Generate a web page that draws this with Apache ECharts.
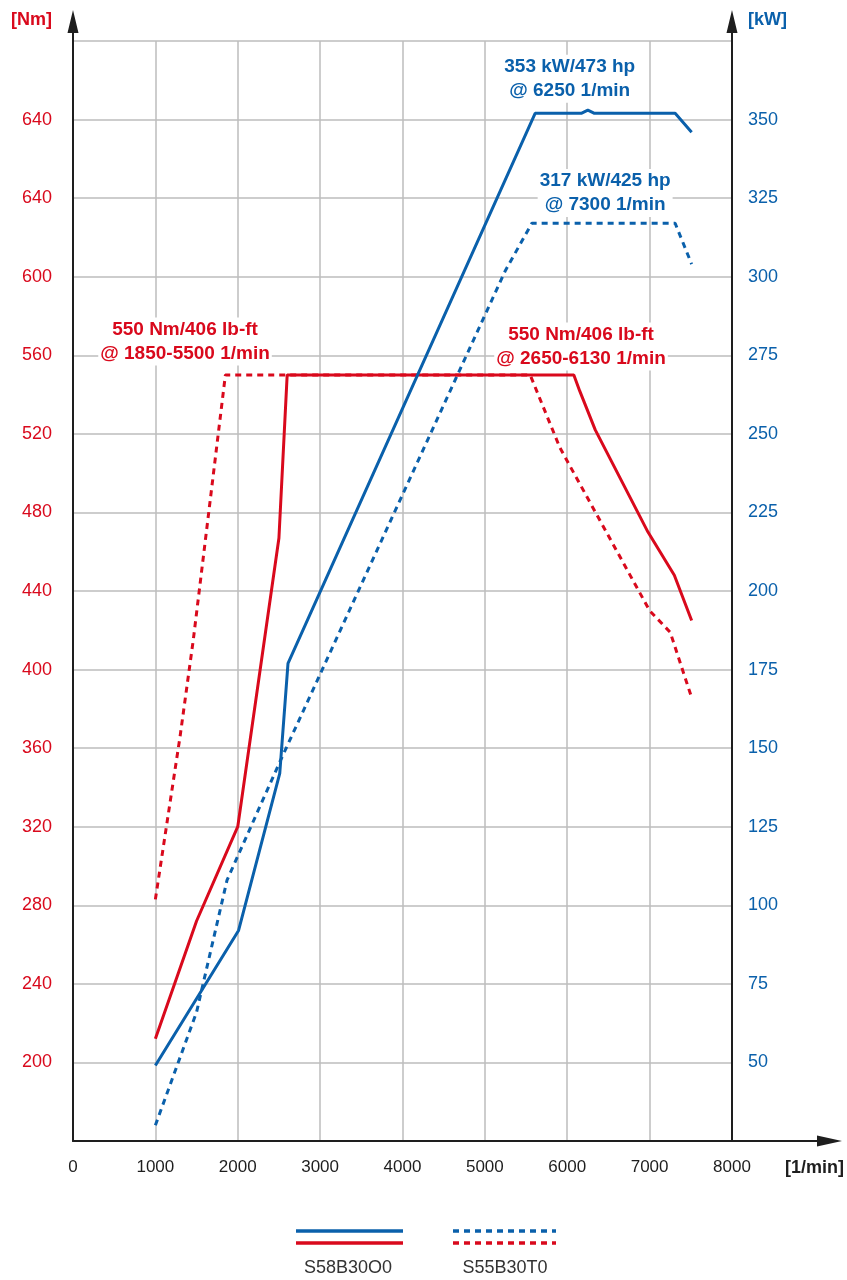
<!DOCTYPE html>
<html><head><meta charset="utf-8">
<script src="https://cdn.jsdelivr.net/npm/echarts/dist/echarts.min.js"></script>
<style>html,body{margin:0;padding:0;background:#fff}#c{width:847px;height:1280px}</style>
</head><body><div id="c"></div>
<script>
// ---- data ----
const xTickLabels = ['0','1000','2000','3000','4000','5000','6000','7000','8000'];
const nmTickLabels = ['', '200','240','280','320','360','400','440','480','520','560','600','640','640',''];
const kwTickLabels = ['', '50','75','100','125','150','175','200','225','250','275','300','325','350',''];

const s58TorqueRpm = [1000,1500,2000,2500,2600,6080,6150,6340,6980,7300,7510];
const s58TorqueNm  = [212, 272, 320, 467, 550, 550, 542, 522, 470, 448, 425];

const s55TorqueRpm = [1000,1300,1460,1850,5550,5910,7000,7250,7500];
const s55TorqueNm  = [283, 366, 415, 550, 550, 513, 430, 419, 387];

const s58PowerRpm = [1000,2010,2510,2610,5610,6170,6250,6330,7310,7510];
const s58PowerKw  = [49,  92,  142, 177, 352, 352, 353, 352, 352, 346];

const s55PowerRpm = [1000,1500,1870,2500,5250,5570,7310,7510];
const s55PowerKw  = [30,  66,  108, 145, 302, 317, 317, 304];

const torqueNotes = [
  {rpm:1360, val:567, text:'550 Nm/406 lb-ft\n@ 1850-5500 1/min'},
  {rpm:6167, val:564.5, text:'550 Nm/406 lb-ft\n@ 2650-6130 1/min'}
];
const powerNotes = [
  {rpm:6030, val:363, text:'353 kW/473 hp\n@ 6250 1/min'},
  {rpm:6460, val:326.6, text:'317 kW/425 hp\n@ 7300 1/min'}
];
const legendNames = ['S58B30O0', 'S55B30T0'];

// ---- chart ----
const RED = '#d9091c', BLUE = '#0a60ab', GRID = '#bdbdbd', AX = '#1e1e1e';
const FONT = '"Liberation Sans", Arial, sans-serif';
const zip = (a, b) => a.map((v, i) => [v, b[i]]);

const yArrow = 'path://M5.5,0L11,23L6.5,23L6.5,31L4.5,31L4.5,23L0,23Z';
const xArrow = 'path://M5.5,0L11,25L6.5,25L6.5,110L4.5,110L4.5,25L0,25Z';

const noteLabel = (color) => ({
  show: true, position: 'inside', color: color, opacity: 1, fontFamily: FONT, fontWeight: 'bold',
  fontSize: 19, lineHeight: 24, align: 'center', verticalAlign: 'middle',
  backgroundColor: '#fff', padding: [0, 2],
  formatter: p => p.data.text
});

const chart = echarts.init(document.getElementById('c'), null, {renderer: 'canvas'});
chart.setOption({
  animation: false,
  backgroundColor: '#fff',
  grid: {left: 73, right: 115, top: 41, bottom: 139, containLabel: false},
  xAxis: {
    type: 'value', min: 0, max: 8000, interval: 1000,
    name: '[1/min]', nameLocation: 'end', nameGap: 53,
    nameTextStyle: {color: AX, fontFamily: FONT, fontWeight: 'bold', fontSize: 18, align: 'left', verticalAlign: 'top', padding: [18, 0, 0, 0]},
    axisLine: {show: true, onZero: false, lineStyle: {color: AX, width: 2}, symbol: ['none', xArrow], symbolSize: [11, 110], symbolOffset: [0, 55]},
    axisTick: {show: false},
    axisLabel: {color: AX, fontFamily: FONT, fontSize: 17, margin: 18, formatter: (v) => xTickLabels[Math.round(v / 1000)]},
    splitLine: {show: true, lineStyle: {color: GRID, width: 1.5}}
  },
  yAxis: [{
    type: 'value', min: 160, max: 720, interval: 40, position: 'left',
    name: '[Nm]', nameLocation: 'end', nameGap: 21,
    nameTextStyle: {color: RED, fontFamily: FONT, fontWeight: 'bold', fontSize: 18, align: 'right', verticalAlign: 'middle', padding: [0, 21, 0, 0]},
    axisLine: {show: true, onZero: false, lineStyle: {color: AX, width: 2}, symbol: ['none', yArrow], symbolSize: [11, 31], symbolOffset: [0, 15.5]},
    axisTick: {show: false},
    axisLabel: {color: RED, fontFamily: FONT, fontSize: 18, margin: 21, formatter: (v) => nmTickLabels[Math.round((v - 160) / 40)]},
    splitLine: {show: true, lineStyle: {color: GRID, width: 1.5}}
  }, {
    type: 'value', min: 25, max: 375, interval: 25, position: 'right',
    name: '[kW]', nameLocation: 'end', nameGap: 21,
    nameTextStyle: {color: BLUE, fontFamily: FONT, fontWeight: 'bold', fontSize: 18, align: 'left', verticalAlign: 'middle', padding: [0, 0, 0, 16]},
    axisLine: {show: true, onZero: false, lineStyle: {color: AX, width: 2}, symbol: ['none', yArrow], symbolSize: [11, 31], symbolOffset: [0, 15.5]},
    axisTick: {show: false},
    axisLabel: {color: BLUE, fontFamily: FONT, fontSize: 18, margin: 16, formatter: (v) => kwTickLabels[Math.round((v - 25) / 25)]},
    splitLine: {show: false}
  }],
  series: [
    {type: 'scatter', name: 'notesT', yAxisIndex: 0, symbolSize: 0, z: 5, itemStyle: {opacity: 1},
     data: torqueNotes.map(n => ({value: [n.rpm, n.val], text: n.text})), label: noteLabel(RED)},
    {type: 'scatter', name: 'notesP', yAxisIndex: 1, symbolSize: 0, z: 5, itemStyle: {opacity: 1},
     data: powerNotes.map(n => ({value: [n.rpm, n.val], text: n.text})), label: noteLabel(BLUE)},
    {type: 'line', name: 'S55B30T0 torque', yAxisIndex: 0, showSymbol: false, z: 6,
     data: zip(s55TorqueRpm, s55TorqueNm), lineStyle: {color: RED, width: 3, type: [6, 5]}},
    {type: 'line', name: 'S55B30T0 power', yAxisIndex: 1, showSymbol: false, z: 6,
     data: zip(s55PowerRpm, s55PowerKw), lineStyle: {color: BLUE, width: 3, type: [6, 5]}},
    {type: 'line', name: 'S58B30O0 torque', yAxisIndex: 0, showSymbol: false, z: 7,
     data: zip(s58TorqueRpm, s58TorqueNm), lineStyle: {color: RED, width: 3}},
    {type: 'line', name: 'S58B30O0 power', yAxisIndex: 1, showSymbol: false, z: 7,
     data: zip(s58PowerRpm, s58PowerKw), lineStyle: {color: BLUE, width: 3}}
  ],
  graphic: [
    {type: 'line', shape: {x1: 296, y1: 1231, x2: 403, y2: 1231}, style: {stroke: BLUE, lineWidth: 3.5}},
    {type: 'line', shape: {x1: 296, y1: 1243, x2: 403, y2: 1243}, style: {stroke: RED, lineWidth: 3.5}},
    {type: 'line', shape: {x1: 453, y1: 1231, x2: 556, y2: 1231}, style: {stroke: BLUE, lineWidth: 3.5, lineDash: [6, 5]}},
    {type: 'line', shape: {x1: 453, y1: 1243, x2: 556, y2: 1243}, style: {stroke: RED, lineWidth: 3.5, lineDash: [6, 5]}},
    {type: 'text', x: 348, y: 1268, style: {text: legendNames[0], align: 'center', verticalAlign: 'middle', textAlign: 'center', textVerticalAlign: 'middle', font: '18px "Liberation Sans", Arial, sans-serif', fill: '#333'}},
    {type: 'text', x: 505, y: 1268, style: {text: legendNames[1], align: 'center', verticalAlign: 'middle', textAlign: 'center', textVerticalAlign: 'middle', font: '18px "Liberation Sans", Arial, sans-serif', fill: '#333'}}
  ]
});
</script></body></html>
